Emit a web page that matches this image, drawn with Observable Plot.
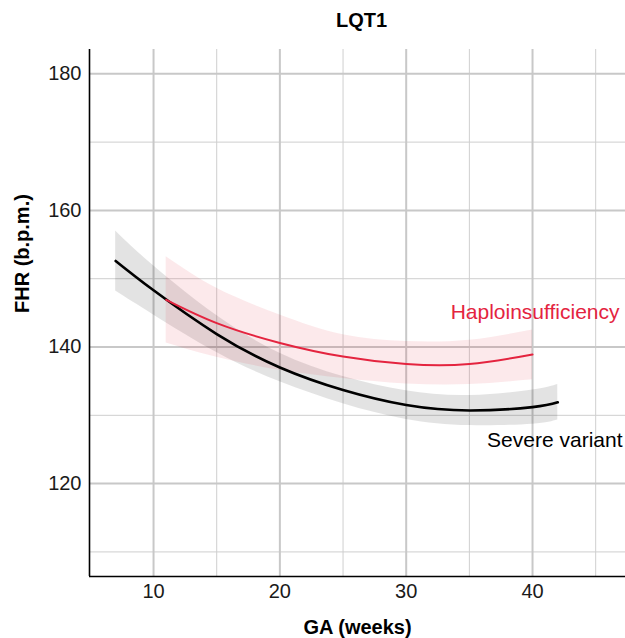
<!DOCTYPE html>
<html>
<head>
<meta charset="utf-8">
<script src="https://cdn.jsdelivr.net/npm/d3@7"></script>
<script src="https://cdn.jsdelivr.net/npm/@observablehq/plot@0.6"></script>
<style>
  html, body { margin: 0; padding: 0; background: #fff; }
</style>
</head>
<body>
<div id="chart"></div>
<script>
// Severe variant (black)
const severeGA    = [7, 10, 15, 20, 25, 30, 35, 40, 42];
const severeFHR   = [152.6, 148.3, 141.9, 137.0, 133.7, 131.5, 130.7, 131.2, 131.9];
const severeLow   = [148.2, 144.7, 139.2, 134.9, 131.7, 129.4, 128.5, 128.7, 129.3];
const severeHigh  = [157.0, 151.9, 144.6, 139.1, 135.7, 133.6, 132.9, 133.7, 134.5];

// Haploinsufficiency (red)
const haploGA    = [11, 15, 20, 25, 30, 35, 40];
const haploFHR   = [146.9, 143.5, 140.6, 138.6, 137.5, 137.5, 138.9];
const haploLow   = [140.6, 138.5, 136.6, 135.4, 134.6, 134.5, 135.2];
const haploHigh  = [153.2, 148.6, 144.7, 141.8, 140.8, 141.0, 142.5];

// Ticks
const xMajor = [10, 20, 30, 40];
const xMinor = [15, 25, 35, 45];
const yMajor = [120, 140, 160, 180];
const yMinor = [110, 130, 150, 170];

const xDomain = [4.93, 47.36];
const yDomain = [106.4, 183.56];

const RED = "#e4243f";

const severe = severeGA.map((x, i) => ({x, y: severeFHR[i], lo: severeLow[i], hi: severeHigh[i]}));
const haplo  = haploGA.map((x, i) => ({x, y: haploFHR[i], lo: haploLow[i], hi: haploHigh[i]}));

const font = "Liberation Sans, Arial, Helvetica, sans-serif";

const chart = Plot.plot({
  width: 625,
  height: 638,
  marginLeft: 89,
  marginRight: 0,
  marginTop: 49,
  marginBottom: 62,
  style: {fontFamily: font, fontSize: "20px", color: "#1a1a1a", background: "#fff"},
  x: {domain: xDomain, ticks: xMajor, tickSize: 0, tickPadding: 7, label: null},
  y: {domain: yDomain, ticks: yMajor, tickSize: 0, tickPadding: 8, label: null},
  marks: [
    Plot.ruleX(xMinor, {stroke: "#cfcfcf", strokeWidth: 1}),
    Plot.ruleY(yMinor, {stroke: "#cfcfcf", strokeWidth: 1}),
    Plot.ruleX(xMajor, {stroke: "#c8c8c8", strokeWidth: 2}),
    Plot.ruleY(yMajor, {stroke: "#c8c8c8", strokeWidth: 2}),
    Plot.areaY(severe, {x: "x", y1: "lo", y2: "hi", fill: "#000", fillOpacity: 0.11, curve: "natural"}),
    Plot.areaY(haplo, {x: "x", y1: "lo", y2: "hi", fill: RED, fillOpacity: 0.1, curve: "natural"}),
    Plot.line(severe, {x: "x", y: "y", stroke: "#000", strokeWidth: 2.6, curve: "natural"}),
    Plot.line(haplo, {x: "x", y: "y", stroke: RED, strokeWidth: 2, curve: "natural"}),
    Plot.ruleX([xDomain[0]], {stroke: "#000", strokeWidth: 1.6}),
    Plot.ruleY([yDomain[0]], {stroke: "#000", strokeWidth: 1.6}),
    Plot.text(["Haploinsufficiency"], {y: 145.1, frameAnchor: "right", dx: -6, textAnchor: "end", lineAnchor: "middle", fill: RED, fontSize: 21}),
    Plot.text(["Severe variant"], {y: 126.3, frameAnchor: "right", dx: -3, textAnchor: "end", lineAnchor: "middle", fill: "#000", fontSize: 21}),
    Plot.text(["LQT1"], {frameAnchor: "top", dx: 4, dy: -28.5, lineAnchor: "middle", fontWeight: "bold", fontSize: 20, fill: "#000"}),
    Plot.text(["GA (weeks)"], {frameAnchor: "bottom", dy: 51, lineAnchor: "middle", fontWeight: "bold", fontSize: 20, fill: "#000"}),
    Plot.text(["FHR (b.p.m.)"], {frameAnchor: "left", dx: -67, rotate: -90, lineAnchor: "middle", fontWeight: "bold", fontSize: 20, fill: "#000"})
  ]
});

document.getElementById("chart").appendChild(chart);
</script>
</body>
</html>
